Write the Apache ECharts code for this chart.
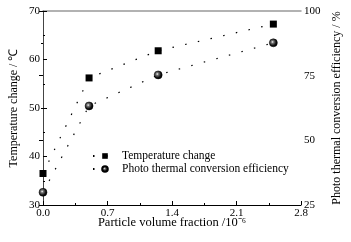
<!DOCTYPE html>
<html><head><meta charset="utf-8">
<script src="https://cdn.jsdelivr.net/npm/echarts@6/dist/echarts.min.js"></script>
<style>html,body{margin:0;padding:0;background:#fff}#c{width:351px;height:242px}</style>
</head><body><div id="c"></div>
<script>
const volumeFraction = [0, 0.5, 1.25, 2.5];
const temperatureChange = [36.5, 56.2, 61.8, 67.3];
const conversionEfficiency = [29.9, 63.3, 75.3, 87.7];
const xTicks = [0, 0.7, 1.4, 2.1, 2.8];
const leftTicks = [30, 40, 50, 60, 70];
const rightTicks = [25, 50, 75, 100];

const font = 'Liberation Serif';
const sphere = {type:'radial', x:0.4, y:0.4, r:0.6, colorStops:[{offset:0,color:'#ffffff'},{offset:0.25,color:'#777'},{offset:0.7,color:'#111'},{offset:1,color:'#000'}]};
const chart = echarts.init(document.getElementById('c'), null, {renderer:'canvas'});
const tickStyle = {show:true, inside:true, length:4, lineStyle:{color:'#000', width:1}};
const minorStyle = {show:true, splitNumber:2, length:2, lineStyle:{color:'#000', width:1}};
chart.setOption({
  animation:false,
  backgroundColor:'#fff',
  textStyle:{fontFamily:font},
  grid:{left:39, right:49, top:11, bottom:37, containLabel:false},
  legend:{
    left:87, top:145, orient:'vertical', itemWidth:24, itemHeight:7, itemGap:1,
    textStyle:{fontFamily:font, fontSize:11.5, color:'#000'},
    data:['Temperature change','Photo thermal conversion efficiency']
  },
  xAxis:[{
    type:'value', min:xTicks[0], max:xTicks[xTicks.length-1], interval:0.7,
    name:'Particle volume fraction /10⁻⁶', nameLocation:'middle', nameGap:11, nameMoveOverlap:false,
    nameTextStyle:{fontFamily:font, fontSize:12.5, color:'#000'},
    axisLine:{show:true, lineStyle:{color:'#000', width:1}},
    axisTick:tickStyle, minorTick:minorStyle,
    axisLabel:{fontFamily:font, fontSize:11, color:'#000', margin:3, formatter:v=>v.toFixed(1)},
    splitLine:{show:false}
  },{
    type:'value', position:'top', min:0, max:2.8,
    axisLine:{show:true, lineStyle:{color:'#999', width:1.5}},
    axisTick:{show:false}, axisLabel:{show:false}, splitLine:{show:false}
  }],
  yAxis:[{
    type:'value', min:leftTicks[0], max:leftTicks[leftTicks.length-1], interval:10,
    name:'Temperature change / ℃', nameLocation:'middle', nameRotate:90, nameGap:23, nameMoveOverlap:false,
    nameTextStyle:{fontFamily:font, fontSize:12, color:'#000'},
    axisLine:{show:true, lineStyle:{color:'#000', width:1}},
    axisTick:tickStyle, minorTick:minorStyle,
    axisLabel:{fontFamily:font, fontSize:11, color:'#000', margin:3},
    splitLine:{show:false}
  },{
    type:'value', position:'right', min:rightTicks[0], max:rightTicks[rightTicks.length-1], interval:25,
    name:'Photo thermal conversion efficiency / %', nameLocation:'middle', nameRotate:90, nameGap:30, nameMoveOverlap:false,
    nameTextStyle:{fontFamily:font, fontSize:12, color:'#000'},
    axisLine:{show:true, lineStyle:{color:'#444', width:1}},
    axisTick:tickStyle, minorTick:minorStyle,
    axisLabel:{fontFamily:font, fontSize:11, color:'#000', margin:3},
    splitLine:{show:false}
  }],
  series:[{
    name:'Temperature change', type:'line', xAxisIndex:0, yAxisIndex:0,
    data:volumeFraction.map((x,i)=>[x, temperatureChange[i]]),
    symbol:'rect', symbolSize:7, showAllSymbol:true,
    itemStyle:{color:'#000'},
    lineStyle:{color:'#000', width:1.2, type:[1.5,11.5]}
  },{
    name:'Photo thermal conversion efficiency', type:'line', xAxisIndex:0, yAxisIndex:1,
    data:volumeFraction.map((x,i)=>[x, conversionEfficiency[i]]),
    symbol:'circle', symbolSize:8, showAllSymbol:true,
    itemStyle:{color:sphere, borderColor:'#000', borderWidth:0.5},
    lineStyle:{color:'#000', width:1.2, type:[1.5,11.5]}
  }]
});
</script></body></html>
